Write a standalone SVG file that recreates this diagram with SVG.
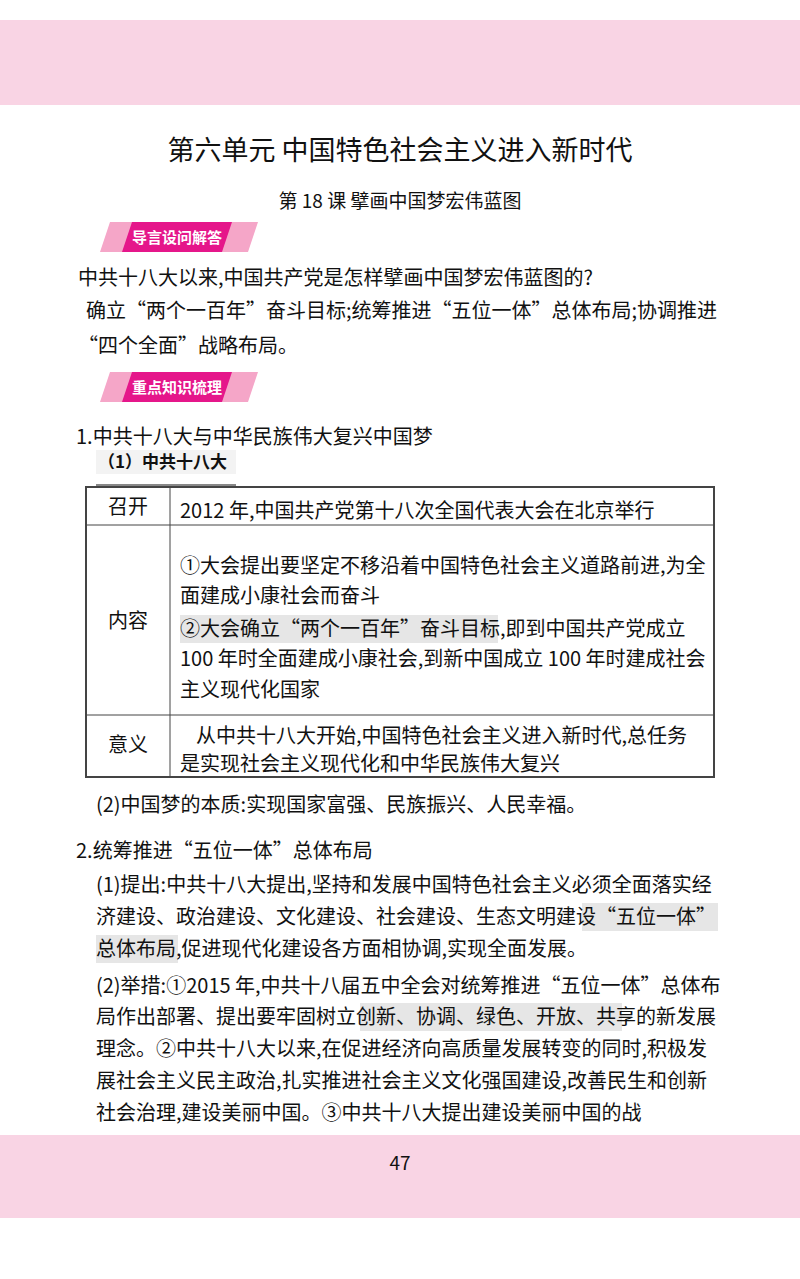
<svg xmlns="http://www.w3.org/2000/svg" width="800" height="1279" viewBox="0 0 800 1279">
<style>
text{font-family:"Noto Sans CJK SC","Liberation Serif",sans-serif;fill:#111}
.b{font-size:20px}
.s{font-size:19px}
.ban{font-size:15px;fill:#fff;font-weight:bold}
.hl{fill:#e6e6e6}
</style>
<rect width="800" height="1279" fill="#fff"/>
<rect x="0" y="20" width="800" height="85" fill="#f9d4e4"/>
<rect x="0" y="1135" width="800" height="83" fill="#f9d4e4"/>
<text x="400" y="160" font-size="27" text-anchor="middle">第六单元 中国特色社会主义进入新时代</text>
<text x="400" y="208" font-size="19" text-anchor="middle">第 18 课 擘画中国梦宏伟蓝图</text>
<g id="banner1">
<polygon points="100,252 110,222 258,222 248,252" fill="#f5a6c8"/>
<polygon points="122,252 132,222 232,222 222,252" fill="#e5168a"/>
<text x="177" y="243" class="ban" text-anchor="middle">导言设问解答</text>
</g>
<text x="78" y="285" class="b">中共十八大以来,中国共产党是怎样擘画中国梦宏伟蓝图的?</text>
<text x="86" y="318" class="b">确立“两个一百年”奋斗目标;统筹推进“五位一体”总体布局;协调推进</text>
<text x="78" y="353" class="b">“四个全面”战略布局。</text>
<g id="banner2">
<polygon points="100,402 110,372 258,372 248,402" fill="#f5a6c8"/>
<polygon points="122,402 132,372 232,372 222,402" fill="#e5168a"/>
<text x="177" y="393" class="ban" text-anchor="middle">重点知识梳理</text>
</g>
<text x="76" y="444" class="b">1.中共十八大与中华民族伟大复兴中国梦</text>
<rect x="96" y="450" width="140" height="24" fill="#f3f3f3"/>
<text x="98" y="468" font-size="17" font-weight="bold" fill="#333">（1）中共十八大</text>
<line x1="96" y1="485" x2="236" y2="485" stroke="#888" stroke-width="2"/>
<g id="table" fill="none" stroke="#444">
<rect x="86" y="487" width="628" height="290" stroke-width="2"/>
<line x1="170" y1="487" x2="170" y2="777"/>
<line x1="86" y1="525" x2="714" y2="525"/>
<line x1="86" y1="715" x2="714" y2="715"/>
</g>
<text x="128" y="514" class="b" text-anchor="middle">召开</text>
<text x="180" y="518" class="b">2012 年,中国共产党第十八次全国代表大会在北京举行</text>
<text x="128" y="628" class="b" text-anchor="middle">内容</text>
<text x="180" y="573" class="b">①大会提出要坚定不移沿着中国特色社会主义道路前进,为全</text>
<text x="180" y="603" class="b">面建成小康社会而奋斗</text>
<rect x="180" y="615" width="318" height="28" class="hl"/>
<text x="180" y="636" class="b">②大会确立“两个一百年”奋斗目标,即到中国共产党成立</text>
<text x="180" y="666" class="b">100 年时全面建成小康社会,到新中国成立 100 年时建成社会</text>
<text x="180" y="697" class="b">主义现代化国家</text>
<text x="128" y="752" class="b" text-anchor="middle">意义</text>
<text x="196" y="743" class="b">从中共十八大开始,中国特色社会主义进入新时代,总任务</text>
<text x="180" y="771" class="b">是实现社会主义现代化和中华民族伟大复兴</text>
<text x="96" y="812" class="b">(2)中国梦的本质:实现国家富强、民族振兴、人民幸福。</text>
<text x="76" y="858" class="b">2.统筹推进“五位一体”总体布局</text>
<text x="96" y="892" class="b">(1)提出:中共十八大提出,坚持和发展中国特色社会主义必须全面落实经</text>
<rect x="582" y="903" width="136" height="28" class="hl"/>
<rect x="96" y="935" width="82" height="28" class="hl"/>
<text x="96" y="924" class="b">济建设、政治建设、文化建设、社会建设、生态文明建设“五位一体”</text>
<text x="96" y="956" class="b">总体布局,促进现代化建设各方面相协调,实现全面发展。</text>
<text x="96" y="993" class="b">(2)举措:①2015 年,中共十八届五中全会对统筹推进“五位一体”总体布</text>
<rect x="360" y="1003" width="262" height="28" class="hl"/>
<text x="96" y="1024" class="b">局作出部署、提出要牢固树立创新、协调、绿色、开放、共享的新发展</text>
<text x="96" y="1056" class="b">理念。②中共十八大以来,在促进经济向高质量发展转变的同时,积极发</text>
<text x="96" y="1088" class="b">展社会主义民主政治,扎实推进社会主义文化强国建设,改善民生和创新</text>
<text x="96" y="1120" class="b">社会治理,建设美丽中国。③中共十八大提出建设美丽中国的战</text>
<text x="400" y="1170" font-size="19" text-anchor="middle" font-family="Liberation Serif,serif">47</text>
</svg>
